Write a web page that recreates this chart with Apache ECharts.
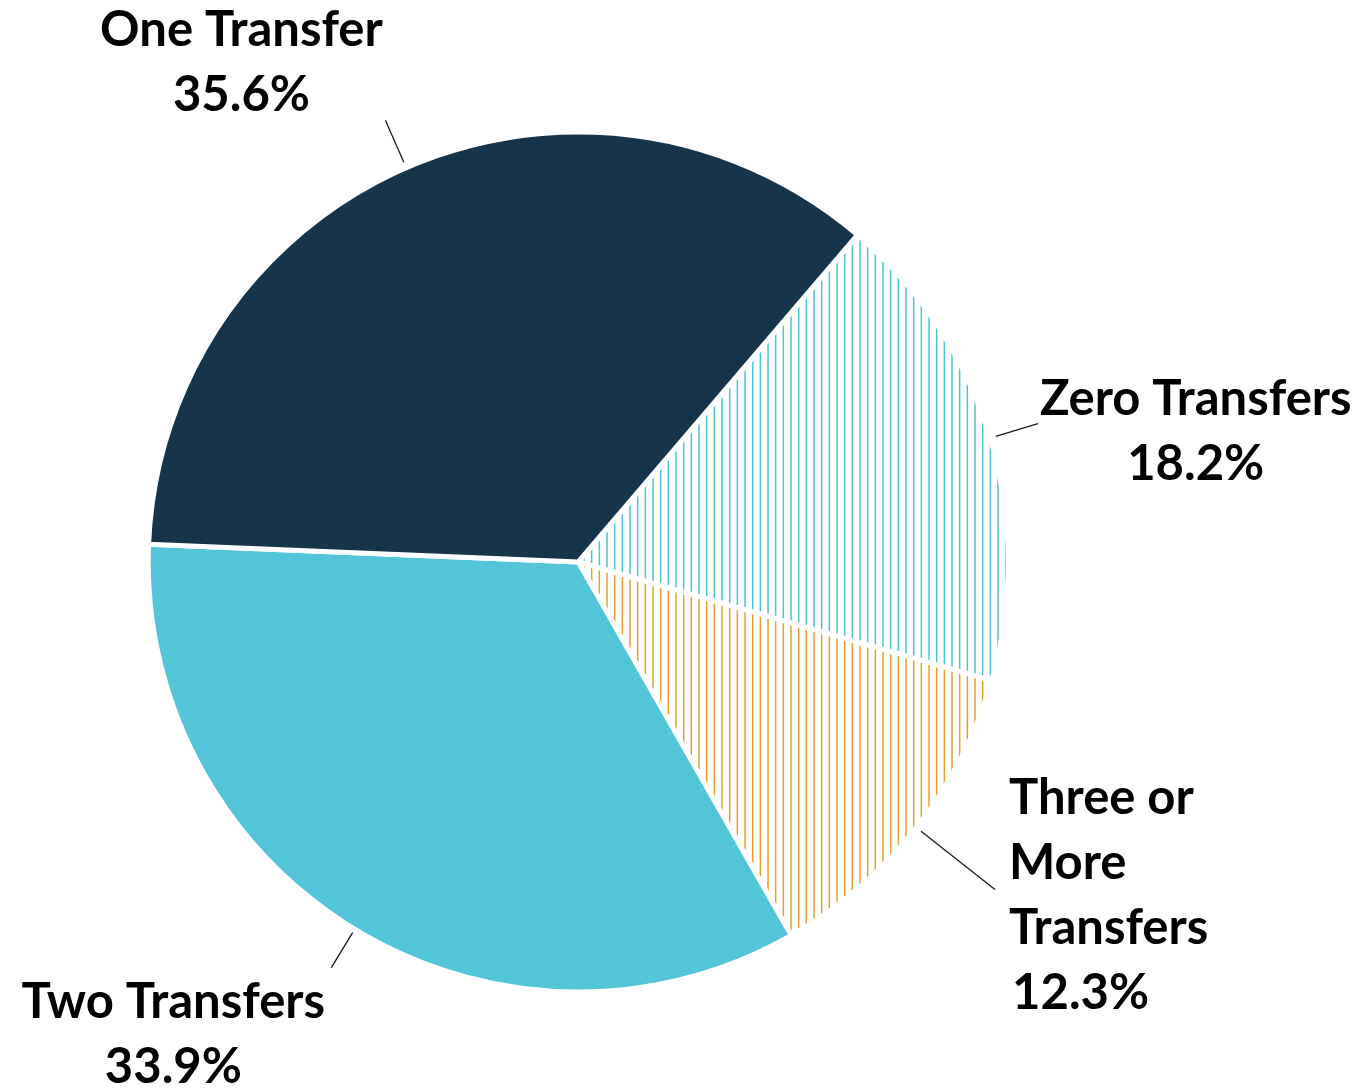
<!DOCTYPE html>
<html>
<head>
<meta charset="utf-8">
<script src="https://cdn.jsdelivr.net/npm/echarts@6/dist/echarts.min.js"></script>
<style>
html,body{margin:0;padding:0;background:#fff;}
#chart{width:1367px;height:1089px;}
</style>
</head>
<body>
<div id="chart"></div>
<script>
// Data (clockwise from the One/Zero boundary)
const categories = ['Zero Transfers', 'Three or More Transfers', 'Two Transfers', 'One Transfer'];
const labelTexts = ['Zero Transfers', 'Three or\nMore\nTransfers', 'Two Transfers', 'One Transfer'];
const percents = [18.2, 12.3, 33.9, 35.6];
const percentLabels = ['18.2%', '\u200A12.3%', '33.9%', '35.6%'];

function hatch(color) {
  const c = document.createElement('canvas');
  c.width = 23; c.height = 8;
  const g = c.getContext('2d');
  g.fillStyle = '#ffffff';
  g.fillRect(0, 0, 23, 8);
  g.fillStyle = color;
  [0.6, 8.27, 15.93].forEach(x => g.fillRect(x, 0, 1.5, 8));
  return { image: c, repeat: 'repeat' };
}

const colors = [hatch('#48c3d8'), hatch('#e89e2c'), '#52c6d8', '#16354b'];

const chart = echarts.init(document.getElementById('chart'));
const START = 49.5;
const CX = 0.423, CY = 0.516, R = 430;
// line radial extents (inner, outer) and label placement styles
const lineR = [[436, 480], [436, 530], [434, 475], [436, 482]];
const labelPlace = [
  { dx: 2, dy: 8, align: 'left', va: 'middle', center: true },
  { dx: 14, dy: 6, align: 'left', va: 'middle', center: false },
  { dx: -158, dy: 2, align: 'center', va: 'top' },
  { dx: -144, dy: 8, align: 'center', va: 'bottom' }
];

function midAngle(i) {
  let acc = 0;
  for (let k = 0; k < i; k++) acc += percents[k];
  const total = percents.reduce((a, b) => a + b, 0);
  return (START - (acc + percents[i] / 2) / total * 360) * Math.PI / 180;
}

chart.setOption({
  backgroundColor: '#ffffff',
  animation: false,
  series: [{
    type: 'pie',
    center: [(CX * 100) + '%', (CY * 100) + '%'],
    radius: R,
    startAngle: START,
    clockwise: true,
    avoidLabelOverlap: false,
    data: categories.map((n, i) => ({
      name: n,
      value: percents[i],
      itemStyle: { color: colors[i] }
    })),
    itemStyle: { borderColor: '#ffffff', borderWidth: 5 },
    label: {
      show: true,
      position: 'outside',
      formatter: p => labelTexts[p.dataIndex] + '\n' + percentLabels[p.dataIndex],
      fontFamily: 'Lato',
      fontWeight: 'bold',
      fontSize: 49,
      lineHeight: 65,
      color: '#000000'
    },
    labelLine: {
      show: true,
      length: 20,
      length2: 0,
      lineStyle: { color: '#1a1a1a', width: 1.3 }
    },
    labelLayout: function (params) {
      const i = params.dataIndex;
      const w = chart.getWidth(), h = chart.getHeight();
      const cx = w * CX, cy = h * CY;
      const a = midAngle(i);
      const p1 = [cx + Math.cos(a) * lineR[i][0], cy - Math.sin(a) * lineR[i][0]];
      const p2 = [cx + Math.cos(a) * lineR[i][1], cy - Math.sin(a) * lineR[i][1]];
      const lp = labelPlace[i];
      let x = p2[0] + lp.dx, align = lp.align;
      if (lp.center) { x += params.labelRect.width / 2; align = 'center'; }
      return {
        x: x,
        y: p2[1] + lp.dy,
        align: align,
        verticalAlign: lp.va,
        labelLinePoints: [p1, p2, p2]
      };
    }
  }]
});
</script>
</body>
</html>
